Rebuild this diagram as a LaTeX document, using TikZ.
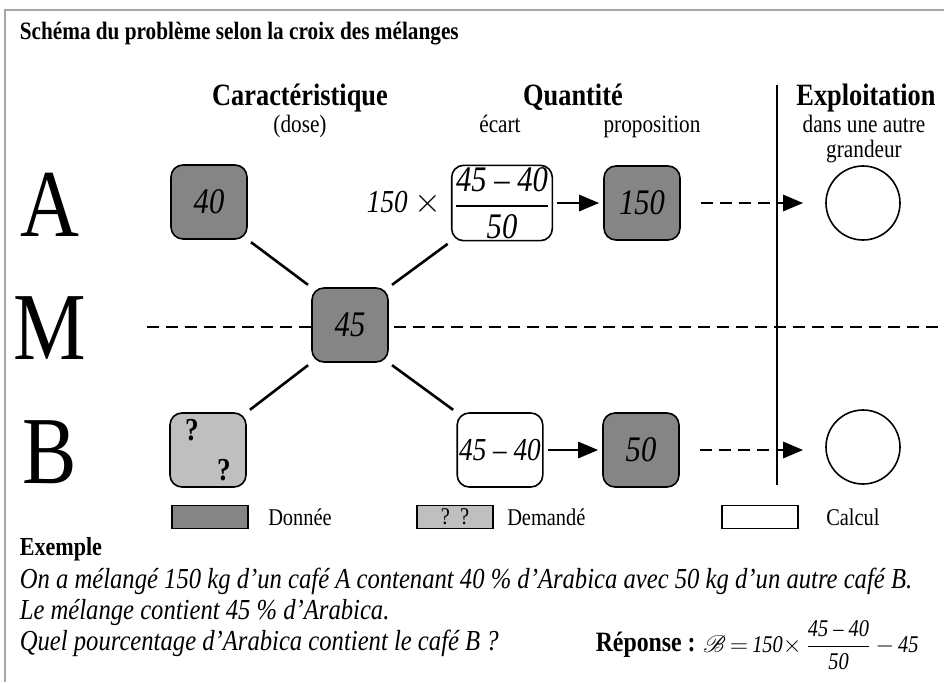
\documentclass[tikz,border=0pt]{standalone}
\usepackage{fontspec}
\setmainfont[FakeStretch=0.85]{Liberation Serif}
\usepackage{amsmath}
\usepackage{mathrsfs}
\usetikzlibrary{arrows.meta,positioning}

\newcommand{\nb}[1]{\textit{#1}}

\begin{document}
\begin{tikzpicture}[x=0.5pt,y=-0.5pt,thick,
	box node/.style={draw,rounded corners=6pt,minimum width=38pt,minimum height=37pt,inner sep=1pt,font=\fontsize{18}{18}\selectfont\itshape},
	donnee node/.style={box node,fill=black!48},
	demande node/.style={box node,fill=black!25,font=\fontsize{16}{18}\selectfont\bfseries,align=left},
	calcul node/.style={box node,fill=white},
	res node/.style={draw,circle,minimum size=37pt,inner sep=0pt},
	leg node/.style={draw,minimum width=38pt,minimum height=11.5pt,inner sep=0pt},
	big letter/.style={font=\fontsize{48}{48}\selectfont},
	head/.style={anchor=base,inner sep=0pt,font=\fontsize{15.5}{17}\selectfont\bfseries},
	sub/.style={anchor=base,inner sep=0pt,font=\fontsize{12.5}{12.5}\selectfont},
	txt/.style={anchor=west,inner sep=0pt,font=\fontsize{14.5}{16}\selectfont\itshape},
	cross/.style={line width=1.3pt,shorten <=2pt,shorten >=2pt},
	flow/.style={line width=1.4pt,-{Triangle[length=10pt,width=8pt]}}]

	\useasboundingbox (0,0) rectangle (944,682);
	% cadre
	\draw[gray!70,line width=0.6pt] (944,10) -- (5,10) -- (5,682);

	\node[anchor=west,inner sep=0pt,font=\fontsize{12.5}{14}\selectfont\bfseries] (titre) at (19,34) {Schéma du problème selon la croix des mélanges};

	% en-tetes
	\node[head] (hcar) at (300,105) {Caractéristique};
	\node[sub] (hdose) at (300,132) {(dose)};
	\node[head] (hqte) at (573,105) {Quantité};
	\node[sub] (hecart) at (500,132) {écart};
	\node[sub] (hprop) at (652,132) {proposition};
	\node[head] (hexp) at (866,105) {Exploitation};
	\node[sub] (hautre) at (864,132) {dans une autre};
	\node[sub] (hgr) at (864,157) {grandeur};

	% lettres
	\node[big letter] (lA) at (50,205) {A};
	\node[big letter] (lM) at (50,328) {M};
	\node[big letter] (lB) at (50,452) {B};

	% ligne M et separation
	\coordinate (mg) at (147,327);
	\coordinate (md) at (940,327);
	\draw[line width=1.4pt,dash pattern=on 6pt off 3.5pt] (mg) -- (md);
	\coordinate (vh) at (777,85);
	\coordinate (vb) at (777,485);
	\draw[line width=1.4pt] (vh) -- (vb);

	% cases
	\node[donnee node] (a40) at (209,202) {40};
	\node[donnee node] (m45) at (350,325) {45};
	\node[demande node] (bq) at (208,450) {?\\[2pt]\hspace{16pt}?};
	\node[calcul node] (aec) at (502,203) {$\dfrac{\text{\nb{45 -- 40}}}{\text{\nb{50}}}$};
	\node[calcul node,font=\fontsize{16}{16}\selectfont\itshape] (bec) at (500,450) {45 -- 40};
	\node[donnee node] (a150) at (642,203) {150};
	\node[donnee node] (b50) at (641,450) {50};
	\node[left=1pt of aec,font=\fontsize{16}{16}\selectfont] (fois) {\nb{150} $\times$};
	\node[res node] (ra) at (863,203) {};
	\node[res node] (rb) at (863,447) {};

	% croix
	\path[cross]
	(a40.south east) edge (m45.north west)
	(m45.north east) edge (aec.south west)
	(m45.south west) edge (bq.north east)
	(m45.south east) edge (bec.north west);

	% fleches
	\draw[flow,shorten <=2pt,shorten >=2pt] (aec) -- (a150);
	\draw[flow,shorten <=2pt,shorten >=2pt] (bec) -- (b50);
	\draw[flow,dash pattern=on 6pt off 3.5pt,shorten <=10pt,shorten >=11pt] (a150) -- (ra);
	\draw[flow,dash pattern=on 6pt off 3.5pt,shorten <=10pt,shorten >=11pt] (b50) -- (rb.west |- b50);

	% legende
	\node[leg node,fill=black!48] (lgd) at (210,517) {};
	\node[right=6pt of lgd,font=\fontsize{12}{14}\selectfont] (tgd) {Donnée};
	\node[leg node,fill=black!25,font=\fontsize{12}{14}\selectfont] (lgq) at (455,517) {?\hspace{5pt}?};
	\node[right=3pt of lgq,font=\fontsize{12}{14}\selectfont] (tgq) {Demandé};
	\node[leg node,fill=white] (lgc) at (760,517) {};
	\node[right=10pt of lgc,font=\fontsize{12}{14}\selectfont] (tgc) {Calcul};

	% exemple
	\node[anchor=west,inner sep=0pt,font=\fontsize{13}{14}\selectfont\bfseries] (ex) at (19,549) {Exemple};
	\node[txt] (l1) at (19,581) {On a mélangé 150 kg d’un café A contenant 40 \% d’Arabica avec 50 kg d’un autre café B.};
	\node[txt] (l2) at (19,612) {Le mélange contient 45 \% d’Arabica.};
	\node[txt] (l3) at (19,643) {Quel pourcentage d’Arabica contient le café B ?};
	\node[anchor=west,inner sep=0pt,font=\fontsize{14}{16}\selectfont\bfseries] (rep) at (595,645) {Réponse :};
	\node[right=3pt of rep,inner sep=0pt,font=\fontsize{12}{14}\selectfont] (form) {$\mathscr{B}\,{=}\,\text{\nb{150}}{\times}\,\dfrac{\text{\nb{45 -- 40}}}{\text{\nb{50}}}\,{-}\,\text{\nb{45}}$};
\end{tikzpicture}
\end{document}
